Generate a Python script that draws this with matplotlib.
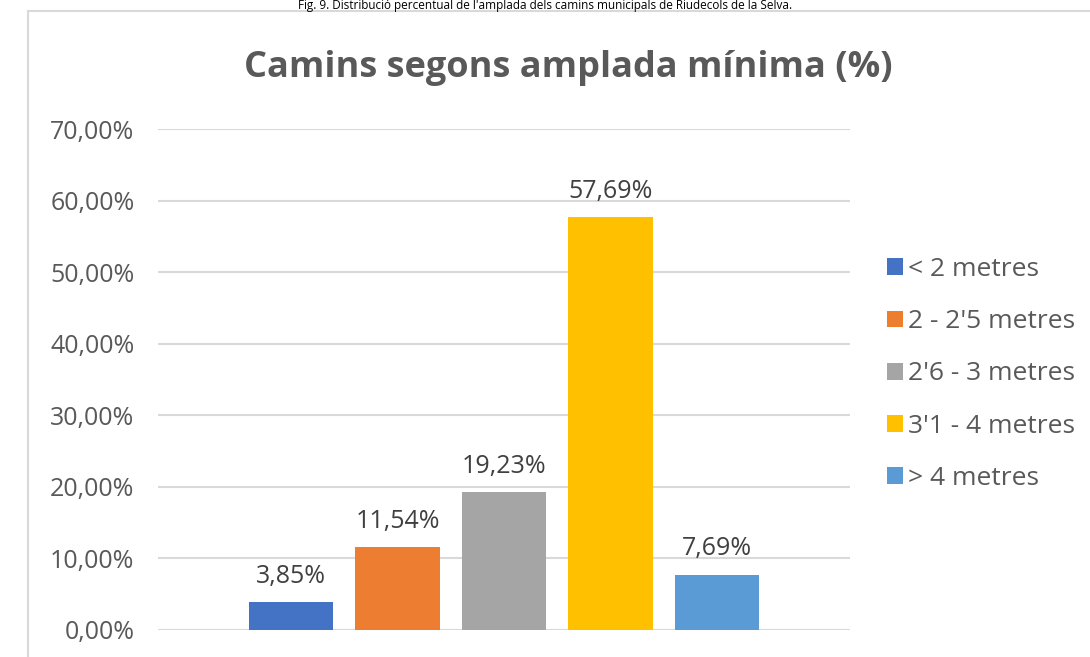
import matplotlib.pyplot as plt
from matplotlib.patches import Rectangle

## ## data
categories = ["< 2 metres", "2 - 2'5 metres", "2'6 - 3 metres", "3'1 - 4 metres", "> 4 metres"]
values = [3.85, 11.54, 19.23, 57.69, 7.69]
colors = ["#4472C4", "#ED7D31", "#A5A5A5", "#FFC000", "#5B9BD5"]
yticks = [0, 10, 20, 30, 40, 50, 60, 70]

title = "Camins segons amplada mínima (%)"
caption = "Fig. 9. Distribució percentual de l'amplada dels camins municipals de Riudecols de la Selva."

plt.rcParams['font.family'] = ['Open Sans', 'DejaVu Sans']

fig = plt.figure(figsize=(10.90, 6.57), dpi=100)

## chart border (only top and left edges visible)
fig.patches.append(Rectangle((28 / 1090, -0.1), 1.2, 1 - 11 / 657 + 0.1,
                             transform=fig.transFigure, fill=False,
                             edgecolor="#d9d9d9", linewidth=1.5))
fig.text(0.5, 1 - 5 / 657, caption, ha="center", va="center", fontsize=8.5, color="#000000")

ax = fig.add_axes([158 / 1090, 1 - 630 / 657, 692 / 1090, 501 / 657])
for i, (v, c, lab) in enumerate(zip(values, colors, categories)):
    ax.bar(i, v, width=0.79, color=c, label=lab, zorder=3)
    ax.text(i, v + 1.9, "{:.2f}%".format(v).replace(".", ","), ha="center", va="bottom",
            fontsize=18, color="#404040")

ax.set_xlim(-1.25, 5.25)
ax.set_ylim(0, 70)
ax.set_yticks(yticks)
ax.set_yticklabels(["{:.2f}%".format(t).replace(".", ",") for t in yticks])
ax.tick_params(axis="y", length=0, pad=17, labelsize=18, labelcolor="#595959")
ax.set_xticks([])
ax.grid(axis="y", color="#d9d9d9", linewidth=1.5, zorder=0)
for s in ax.spines.values():
    s.set_visible(False)

fig.text(568 / 1090, 1 - 68 / 657, title, ha="center", va="center", fontsize=26,
         fontweight="bold", color="#595959")

leg = ax.legend(loc="center left", bbox_to_anchor=(1.053, 0.511), frameon=False,
                borderaxespad=0, borderpad=0,
                fontsize=19, labelcolor="#595959", handlelength=0.6, handleheight=0.6,
                handletextpad=0.2, labelspacing=1.03)

plt.savefig("out.png")
